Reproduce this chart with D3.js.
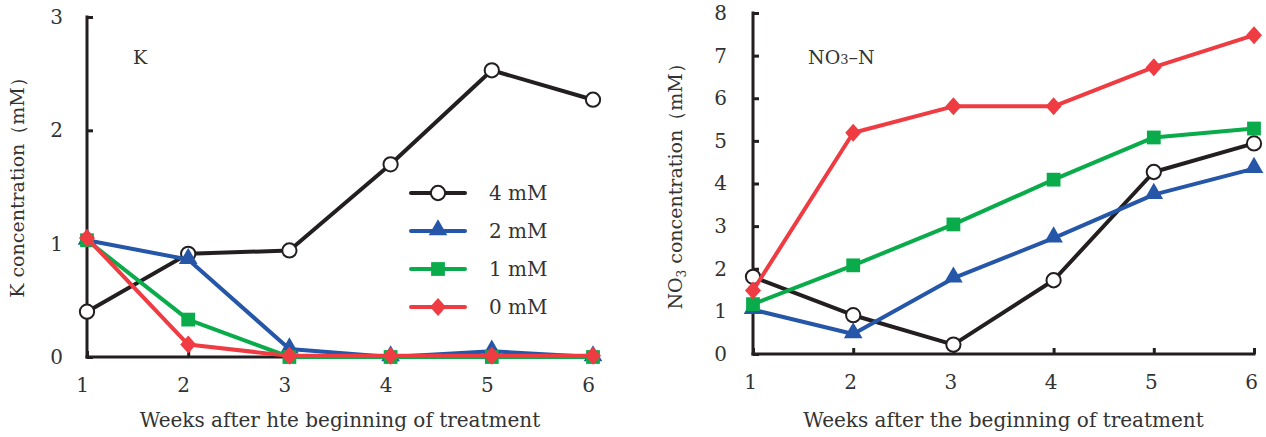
<!DOCTYPE html>
<html lang="en">
<head>
<meta charset="utf-8">
<title>K and NO3-N concentration</title>
<script src="https://d3js.org/d3.v7.min.js"></script>
<style>
  body { margin: 0; background: #fff; }
  text { font-family: "DejaVu Serif", "Liberation Serif", serif; fill: #333; }
</style>
</head>
<body>
<svg id="chart" width="1266" height="437"></svg>
<script>
// data
let weeks = [1, 2, 3, 4, 5, 6];
let seriesNames = ["4 mM", "2 mM", "1 mM", "0 mM"];
let seriesColors = ["#231f20", "#2556a8", "#0aab4a", "#ef3b42"];
let seriesShapes = ["circle", "triangle", "square", "diamond"];

let kValues4 = [0.40, 0.91, 0.94, 1.70, 2.53, 2.27];
let kValues2 = [1.03, 0.86, 0.07, 0.00, 0.05, 0.00];
let kValues1 = [1.03, 0.33, 0.00, 0.00, 0.00, 0.00];
let kValues0 = [1.05, 0.11, 0.01, 0.01, 0.01, 0.01];
let kTicks = [0, 1, 2, 3];

let nValues4 = [1.81, 0.91, 0.22, 1.73, 4.27, 4.94];
let nValues2 = [1.04, 0.47, 1.78, 2.72, 3.74, 4.35];
let nValues1 = [1.17, 2.08, 3.04, 4.09, 5.08, 5.29];
let nValues0 = [1.49, 5.19, 5.81, 5.81, 6.73, 7.48];
let nTicks = [0, 1, 2, 3, 4, 5, 6, 7, 8];

let svg = d3.select("#chart");

function markerPath(shape) {
    if (shape == "triangle") return d3.symbol().type(d3.symbolTriangle).size(150)();
    if (shape == "square") return d3.symbol().type(d3.symbolSquare).size(190)();
    if (shape == "diamond") return "M0,-9L8,0L0,9L-8,0Z";
    return d3.symbol().type(d3.symbolCircle).size(160)();
}

function drawMarker(g, shape, color) {
    let m = g.append("path").attr("d", markerPath(shape));
    if (shape == "circle") {
        m.attr("fill", "#fff").attr("stroke", color).attr("stroke-width", 2);
    } else {
        m.attr("fill", color);
    }
    if (shape == "triangle") m.attr("transform", "translate(0,-1)");
    return m;
}

function makePanel(cfg) {
    let x = d3.scaleLinear().domain([1, 6]).range([cfg.left, cfg.right]);
    let y = d3.scaleLinear().domain([0, cfg.yMax]).range([cfg.bottom, cfg.top]);
    let g = svg.append("g");
    let fmt = d3.format("d");

    let yAxis = g.append("g")
        .attr("transform", "translate(" + cfg.left + ",0)")
        .call(d3.axisLeft(y).tickValues(cfg.ticks).tickFormat(fmt).tickSize(-6).tickSizeOuter(0).tickPadding(cfg.yPad));
    let xAxis = g.append("g")
        .attr("transform", "translate(0," + cfg.bottom + ")")
        .call(d3.axisBottom(x).tickValues(weeks).tickFormat(fmt).tickSize(-6).tickSizeOuter(0).tickPadding(21));
    [xAxis, yAxis].forEach(a => {
        a.selectAll("path, line").attr("stroke", "#231f20").attr("stroke-width", 3);
        a.selectAll("text").attr("font-size", 20).attr("fill", "#333")
            .style("font-family", "'DejaVu Serif', serif");
    });
    xAxis.selectAll("text").attr("transform", "translate(" + cfg.xShift + ",0)");
    xAxis.select("path").attr("d", "M" + (cfg.left - 1.5) + ",0H" + (cfg.right + 1.5));
    yAxis.select("path").attr("d", "M0," + (cfg.top - 1.5) + "V" + (cfg.bottom + 1.5));

    // axis titles
    g.append("text")
        .attr("x", (cfg.left + cfg.right) / 2 + cfg.xTitleShift)
        .attr("y", 427)
        .attr("text-anchor", "middle")
        .attr("font-size", 20)
        .text(cfg.xTitle);
    let yt = g.append("text")
        .attr("transform", "translate(" + cfg.yTitleX + "," + cfg.yTitleY + ") rotate(-90)")
        .attr("text-anchor", "middle")
        .attr("font-size", 19);
    cfg.yTitle(yt);

    let lab = g.append("text")
        .attr("x", cfg.labelX)
        .attr("y", 64)
        .attr("font-size", 19);
    cfg.label(lab);

    let line = d3.line().x((d, i) => x(weeks[i])).y(d => y(d));
    cfg.values.forEach((vals, k) => {
        g.append("path")
            .attr("d", line(vals))
            .attr("fill", "none")
            .attr("stroke", seriesColors[k])
            .attr("stroke-width", 4)
            .attr("stroke-linejoin", "round");
        vals.forEach((v, i) => {
            let mg = g.append("g").attr("transform", "translate(" + x(weeks[i]) + "," + y(v) + ")");
            drawMarker(mg, seriesShapes[k], seriesColors[k]);
        });
    });
    return g;
}

makePanel({
    left: 87, right: 593, top: 17, bottom: 357, yMax: 3,
    ticks: kTicks, yPad: 24, xShift: -5,
    values: [kValues4, kValues2, kValues1, kValues0],
    xTitle: "Weeks after hte beginning of treatment", xTitleShift: 0,
    yTitleX: 24, yTitleY: 183,
    yTitle: t => t.text("K concentration（mM）"),
    labelX: 133,
    label: t => t.text("K")
});

makePanel({
    left: 753, right: 1254, top: 13, bottom: 354, yMax: 8,
    ticks: nTicks, yPad: 26, xShift: -3,
    values: [nValues4, nValues2, nValues1, nValues0],
    xTitle: "Weeks after the beginning of treatment", xTitleShift: 0,
    yTitleX: 682, yTitleY: 182,
    yTitle: t => {
        t.append("tspan").text("NO");
        t.append("tspan").attr("font-size", 12).attr("dy", 4).text("3");
        t.append("tspan").attr("dy", -4).text(" concentration（mM）");
    },
    labelX: 808,
    label: t => {
        t.append("tspan").text("NO");
        t.append("tspan").attr("font-size", 13).text("3");
        t.append("tspan").text("–N");
    }
});

// legend in the left panel
let legend = svg.append("g");
seriesNames.forEach((name, k) => {
    let ly = 193 + k * 38;
    legend.append("line")
        .attr("x1", 411).attr("x2", 465).attr("y1", ly).attr("y2", ly)
        .attr("stroke", seriesColors[k]).attr("stroke-width", 4).attr("stroke-linecap", "round");
    let mg = legend.append("g").attr("transform", "translate(438," + ly + ")");
    drawMarker(mg, seriesShapes[k], seriesColors[k]);
    legend.append("text")
        .attr("x", 489).attr("y", ly + 7)
        .attr("font-size", 20)
        .text(name);
});
</script>
</body>
</html>
